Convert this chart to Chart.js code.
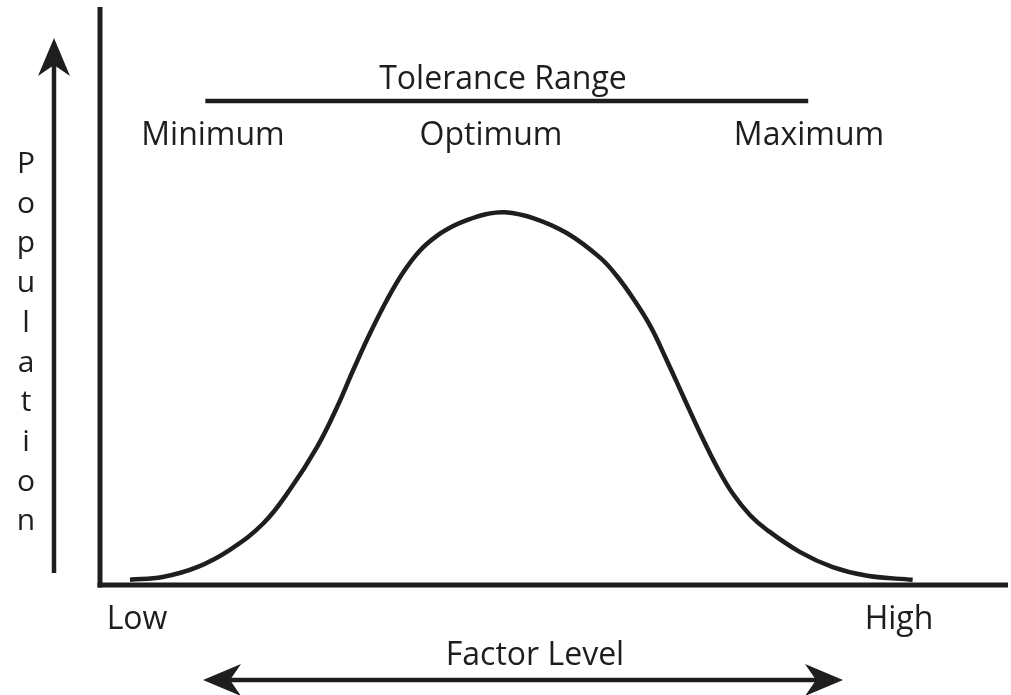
<!DOCTYPE html>
<html>
<head>
<meta charset="utf-8">
<script src="https://cdn.jsdelivr.net/npm/chart.js@4"></script>
<style>
  html, body { margin: 0; padding: 0; background: #ffffff; }
  #wrap { width: 1011px; height: 695px; }
</style>
</head>
<body>
<div id="wrap"><canvas id="toleranceChart" width="1011" height="695"></canvas></div>
<script>
// ============================================
// DATOS
// ============================================

// Nivel del factor (0 = Low, 100 = right end of axis)
const factorLevel = [3.3, 6.9, 10.7, 14.3, 18.0, 20.9, 23.9, 26.1, 27.9, 29.7, 31.6, 33.4, 35.2, 37.1, 38.9,
                     40.7, 42.6, 44.6, 47.7, 51.4, 55.1, 56.9, 58.7, 60.6, 62.4, 64.2, 66.1, 68.0, 69.7,
                     71.6, 73.5, 77.1, 80.7, 84.5, 89.5];

// Población
const population = [0.9, 1.4, 3.1, 6.1, 10.7, 16.5, 23.9, 30.8, 37.3, 43.5, 49.4, 54.2, 57.9, 60.5, 62.2,
                    63.4, 64.3, 64.6, 63.6, 61.0, 56.7, 53.6, 49.7, 44.9, 39.0, 32.8, 26.3, 20.3, 15.8,
                    12.1, 9.5, 5.7, 3.1, 1.6, 0.9];

// Textos
const rangeTitle = 'Tolerance Range';
const rangeLabels = ['Minimum', 'Optimum', 'Maximum'];
const endLabels = ['Low', 'High'];
const xTitle = 'Factor Level';
const yTitle = 'Population';

const INK = '#1e1e1e';
const FONT = '"Open Sans", "Noto Sans", sans-serif';

// ============================================
// UTILIDADES DE DIBUJO
// ============================================

function arrowHead(ctx, tipX, tipY, dirX, dirY) {
    // punta de flecha con muesca
    const len = 38, half = 16, notch = 11;
    const px = -dirY, py = dirX;
    const bx = tipX - dirX * len, by = tipY - dirY * len;
    const nx = tipX - dirX * (len - notch), ny = tipY - dirY * (len - notch);
    ctx.beginPath();
    ctx.moveTo(tipX, tipY);
    ctx.lineTo(bx + px * half, by + py * half);
    ctx.lineTo(nx, ny);
    ctx.lineTo(bx - px * half, by - py * half);
    ctx.closePath();
    ctx.fill();
}

function line(ctx, x1, y1, x2, y2, w) {
    ctx.lineWidth = w;
    ctx.beginPath();
    ctx.moveTo(x1, y1);
    ctx.lineTo(x2, y2);
    ctx.stroke();
}

const decorPlugin = {
    id: 'decor',
    beforeDatasetsDraw(chart) {
        const { ctx, chartArea } = chart;
        ctx.save();
        ctx.strokeStyle = INK;
        ctx.lineCap = 'butt';
        // ejes
        line(ctx, chartArea.left, 7, chartArea.left, chartArea.bottom + 2.5, 5);
        line(ctx, chartArea.left - 2.5, chartArea.bottom, chartArea.right, chartArea.bottom, 5);
        ctx.restore();
    },
    afterDraw(chart) {
        const { ctx } = chart;
        const x = chart.scales.x;
        ctx.save();
        ctx.fillStyle = INK;
        ctx.strokeStyle = INK;

        // línea del rango de tolerancia
        line(ctx, x.getPixelForValue(11.6), 101, x.getPixelForValue(78.0), 101, 4.5);

        ctx.font = '32px ' + FONT;
        ctx.textAlign = 'center';
        ctx.textBaseline = 'alphabetic';
        ctx.fillText(rangeTitle, 503, 89);
        ctx.fillText(rangeLabels[0], 213, 145);
        ctx.fillText(rangeLabels[1], 491, 145);
        ctx.fillText(rangeLabels[2], 809, 145);

        ctx.fillText(endLabels[0], 137, 629);
        ctx.fillText(endLabels[1], 899, 629);
        ctx.fillText(xTitle, 535, 665);

        // título vertical, una letra por línea
        ctx.font = '30px ' + FONT;
        yTitle.split('').forEach((ch, i) => {
            ctx.fillText(ch, 26, 173 + i * 39.7);
        });

        // flecha vertical
        line(ctx, 54, 573, 54, 60, 4.5);
        arrowHead(ctx, 54, 38, 0, -1);

        // flecha doble horizontal
        line(ctx, 225, 680, 822, 680, 4.5);
        arrowHead(ctx, 203, 680, -1, 0);
        arrowHead(ctx, 843, 680, 1, 0);

        ctx.restore();
    }
};

// ============================================
// GRÁFICO
// ============================================

const points = factorLevel.map((v, i) => ({ x: v, y: population[i] }));

const chart = new Chart(document.getElementById('toleranceChart').getContext('2d'), {
    type: 'scatter',
    data: {
        datasets: [{
            label: yTitle,
            data: points,
            showLine: true,
            borderColor: INK,
            borderWidth: 4.5,
            pointRadius: 0,
            tension: 0.4,
            fill: false
        }]
    },
    options: {
        responsive: false,
        animation: false,
        layout: {
            padding: { left: 100, top: 8, right: 3, bottom: 110 }
        },
        plugins: {
            legend: { display: false },
            tooltip: { enabled: false }
        },
        scales: {
            x: { type: 'linear', min: 0, max: 100, display: false },
            y: { type: 'linear', min: 0, max: 100, display: false }
        }
    },
    plugins: [decorPlugin]
});
</script>
</body>
</html>
